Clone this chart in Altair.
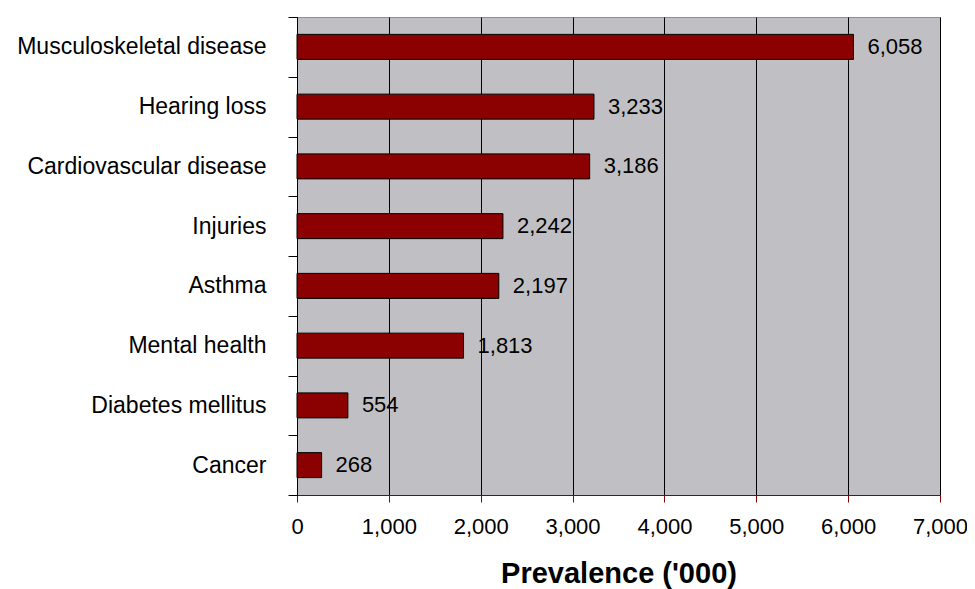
import altair as alt
import pandas as pd

categories = ["Musculoskeletal disease", "Hearing loss", "Cardiovascular disease",
              "Injuries", "Asthma", "Mental health", "Diabetes mellitus", "Cancer"]
values = [6058, 3233, 3186, 2242, 2197, 1813, 554, 268]
x_ticks = [0, 1000, 2000, 3000, 4000, 5000, 6000, 7000]

df = pd.DataFrame({"cat": categories, "val": values})

FONT = "Liberation Sans"

x = alt.X("val:Q", title="Prevalence ('000)",
          scale=alt.Scale(domain=[0, 7000], nice=False),
          axis=alt.Axis(values=x_ticks, labelExpr="format(datum.value, ',')",
                        labelFlush=False, labelOverlap=False, labelBound=False,
                        grid=True, gridColor="black",
                        gridWidth=1, domainColor="#8B0000", tickColor="#8B0000",
                        tickSize=7, labelFontSize=22, labelFont=FONT, labelColor="black",
                        labelPadding=14, titleFont=FONT, titleFontSize=29,
                        titleFontWeight="bold", titleColor="black", titlePadding=22))
y = alt.Y("cat:N", sort=categories, title=None,
          scale=alt.Scale(paddingInner=0, paddingOuter=0),
          axis=alt.Axis(tickBand="extent", domainColor="black", tickColor="black",
                        tickSize=9, labelFontSize=23, labelFont=FONT, labelColor="black",
                        labelPadding=22, grid=False, labelLimit=400))

bars = alt.Chart(df).mark_bar(size=25, color="#8B0000", stroke="black",
                              strokeWidth=1).encode(x=x, y=y)
labels = alt.Chart(df).mark_text(align="left", baseline="middle", dx=14,
                                 fontSize=22, font=FONT, color="black").encode(
    x=x, y=y, text=alt.Text("val:Q", format=","))

chart = (bars + labels).properties(
    width=643, height=478,
    autosize=alt.AutoSizeParams(type="none"),
    padding={"left": 289, "top": 9, "right": 27, "bottom": 94},
    background="white",
).configure_view(fill="#C0C0C4", stroke="#909090", strokeWidth=1)

chart.save("out.html", embed_options={"renderer": "svg", "actions": False})
